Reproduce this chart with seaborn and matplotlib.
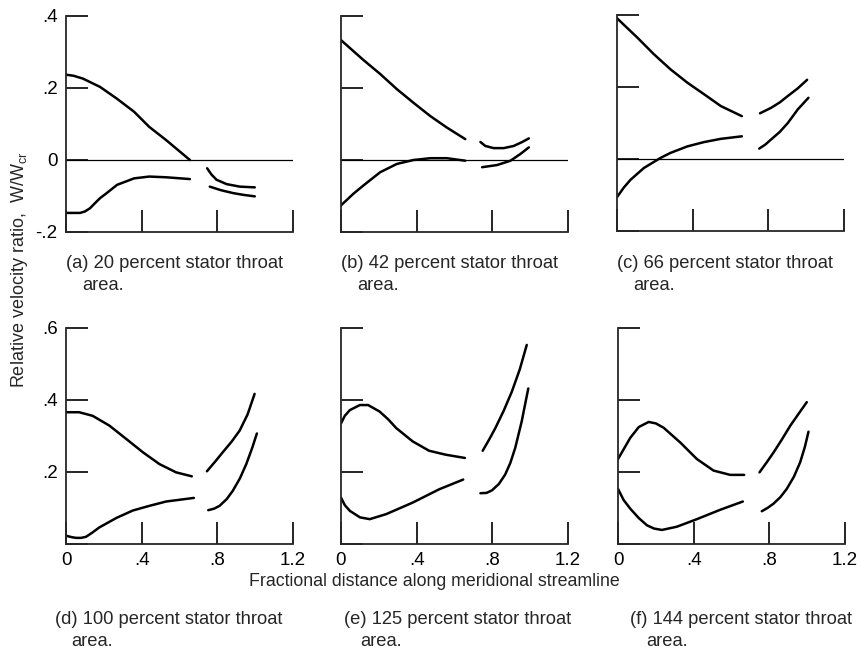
import matplotlib
matplotlib.use("Agg")
import matplotlib.pyplot as plt
import seaborn as sns

# digitised curves: each panel has two branches in the blade passage (x < .7)
# and two in the downstream section (x > .7)
a_up1_x = [0, 0.04, 0.09, 0.18, 0.27, 0.36, 0.44, 0.53, 0.655]
a_up1_y = [0.237, 0.234, 0.226, 0.203, 0.17, 0.134, 0.092, 0.055, 0.0]
a_lo1_x = [0, 0.074, 0.1, 0.127, 0.153, 0.18, 0.215, 0.27, 0.36, 0.44, 0.53, 0.655]
a_lo1_y = [-0.147, -0.147, -0.143, -0.134, -0.12, -0.106, -0.092, -0.069, -0.051,
           -0.046, -0.048, -0.053]
a_up2_x = [0.746, 0.77, 0.796, 0.849, 0.919, 0.998]
a_up2_y = [-0.023, -0.041, -0.055, -0.067, -0.074, -0.076]
a_lo2_x = [0.76, 0.82, 0.884, 0.94, 0.998]
a_lo2_y = [-0.074, -0.084, -0.092, -0.097, -0.101]

b_up1_x = [0, 0.118, 0.207, 0.295, 0.383, 0.472, 0.56, 0.657]
b_up1_y = [0.333, 0.278, 0.239, 0.197, 0.159, 0.122, 0.09, 0.058]
b_lo1_x = [0, 0.065, 0.118, 0.207, 0.295, 0.383, 0.472, 0.56, 0.657]
b_lo1_y = [-0.126, -0.094, -0.071, -0.034, -0.011, 0.0, 0.005, 0.005, -0.002]
b_up2_x = [0.737, 0.763, 0.807, 0.86, 0.913, 0.958, 0.993]
b_up2_y = [0.05, 0.039, 0.033, 0.033, 0.039, 0.05, 0.06]
b_lo2_x = [0.746, 0.825, 0.896, 0.949, 0.993]
b_lo2_y = [-0.02, -0.014, -0.002, 0.017, 0.035]

c_up1_x = [0, 0.106, 0.195, 0.283, 0.372, 0.46, 0.549, 0.66]
c_up1_y = [0.391, 0.338, 0.291, 0.249, 0.212, 0.18, 0.147, 0.119]
c_lo1_x = [0, 0.035, 0.071, 0.142, 0.23, 0.283, 0.372, 0.46, 0.549, 0.66]
c_lo1_y = [-0.106, -0.08, -0.058, -0.025, 0.003, 0.017, 0.035, 0.047, 0.056, 0.063]
c_up2_x = [0.756, 0.814, 0.86, 0.903, 0.955, 1.005]
c_up2_y = [0.127, 0.142, 0.157, 0.175, 0.196, 0.22]
c_lo2_x = [0.752, 0.784, 0.814, 0.86, 0.903, 0.956, 1.012]
c_lo2_y = [0.029, 0.04, 0.054, 0.075, 0.1, 0.138, 0.17]

d_up1_x = [0, 0.07, 0.141, 0.229, 0.318, 0.406, 0.494, 0.582, 0.665]
d_up1_y = [0.366, 0.366, 0.356, 0.329, 0.292, 0.255, 0.222, 0.199, 0.188]
d_lo1_x = [0, 0.03, 0.053, 0.08, 0.106, 0.14, 0.176, 0.265, 0.353, 0.441, 0.529, 0.676]
d_lo1_y = [0.023, 0.019, 0.017, 0.017, 0.02, 0.032, 0.046, 0.072, 0.093, 0.106, 0.118, 0.128]
d_up2_x = [0.745, 0.787, 0.829, 0.875, 0.918, 0.96, 0.997]
d_up2_y = [0.202, 0.228, 0.255, 0.284, 0.315, 0.36, 0.417]
d_lo2_x = [0.752, 0.782, 0.812, 0.85, 0.882, 0.92, 0.953, 0.985, 1.009]
d_lo2_y = [0.094, 0.098, 0.106, 0.125, 0.148, 0.183, 0.222, 0.268, 0.307]

e_up1_x = [0, 0.02, 0.047, 0.1, 0.143, 0.204, 0.25, 0.292, 0.379, 0.466, 0.554, 0.655]
e_up1_y = [0.335, 0.356, 0.372, 0.386, 0.386, 0.368, 0.346, 0.322, 0.285, 0.259, 0.248, 0.239]
e_lo1_x = [0, 0.02, 0.047, 0.1, 0.152, 0.239, 0.379, 0.519, 0.646]
e_lo1_y = [0.129, 0.108, 0.092, 0.074, 0.069, 0.083, 0.115, 0.152, 0.179]
e_up2_x = [0.749, 0.783, 0.816, 0.86, 0.903, 0.945, 0.982]
e_up2_y = [0.259, 0.29, 0.322, 0.37, 0.423, 0.485, 0.553]
e_lo2_x = [0.737, 0.77, 0.798, 0.835, 0.868, 0.895, 0.921, 0.955, 0.99]
e_lo2_y = [0.141, 0.142, 0.149, 0.167, 0.193, 0.225, 0.267, 0.34, 0.432]

f_up1_x = [0, 0.065, 0.11, 0.162, 0.2, 0.241, 0.329, 0.417, 0.505, 0.593, 0.667]
f_up1_y = [0.236, 0.295, 0.325, 0.339, 0.335, 0.323, 0.282, 0.236, 0.204, 0.192, 0.192]
f_lo1_x = [0, 0.03, 0.065, 0.11, 0.153, 0.19, 0.232, 0.311, 0.417, 0.54, 0.66]
f_lo1_y = [0.153, 0.122, 0.098, 0.072, 0.052, 0.043, 0.039, 0.048, 0.069, 0.095, 0.118]
f_up2_x = [0.748, 0.785, 0.822, 0.866, 0.91, 0.955, 0.998]
f_up2_y = [0.199, 0.226, 0.254, 0.29, 0.328, 0.362, 0.394]
f_lo2_x = [0.76, 0.79, 0.822, 0.858, 0.892, 0.93, 0.963, 0.988, 1.007]
f_lo2_y = [0.091, 0.1, 0.112, 0.13, 0.153, 0.187, 0.227, 0.27, 0.312]

captions = [
    "(a) 20 percent stator throat", "(b) 42 percent stator throat",
    "(c) 66 percent stator throat", "(d) 100 percent stator throat",
    "(e) 125 percent stator throat", "(f) 144 percent stator throat",
]
x_ticks = [0, 0.4, 0.8, 1.2]
x_labels = ["0", ".4", ".8", "1.2"]
top_y_ticks = [-0.2, 0, 0.2, 0.4]
top_y_labels = ["-.2", "0", ".2", ".4"]
bot_y_ticks = [0, 0.2, 0.4, 0.6]
bot_y_labels = ["", ".2", ".4", ".6"]

panels = [
    [(a_up1_x, a_up1_y), (a_lo1_x, a_lo1_y), (a_up2_x, a_up2_y), (a_lo2_x, a_lo2_y)],
    [(b_up1_x, b_up1_y), (b_lo1_x, b_lo1_y), (b_up2_x, b_up2_y), (b_lo2_x, b_lo2_y)],
    [(c_up1_x, c_up1_y), (c_lo1_x, c_lo1_y), (c_up2_x, c_up2_y), (c_lo2_x, c_lo2_y)],
    [(d_up1_x, d_up1_y), (d_lo1_x, d_lo1_y), (d_up2_x, d_up2_y), (d_lo2_x, d_lo2_y)],
    [(e_up1_x, e_up1_y), (e_lo1_x, e_lo1_y), (e_up2_x, e_up2_y), (e_lo2_x, e_lo2_y)],
    [(f_up1_x, f_up1_y), (f_lo1_x, f_lo1_y), (f_up2_x, f_up2_y), (f_lo2_x, f_lo2_y)],
]

sns.set_style("ticks")
plt.rcParams["font.family"] = ["Liberation Sans", "DejaVu Sans"]
plt.rcParams["mathtext.fontset"] = "custom"
plt.rcParams["mathtext.rm"] = "Liberation Sans"

W, H = 861, 652
fig = plt.figure(figsize=(W / 100, H / 100), dpi=100)

# axes boxes in pixels: left, top (y of max), width, height
lefts = [66, 341, 617, 66, 341, 618]
tops = [16, 16, 15, 328, 328, 328]
aw, ah = 227, 216
cap_pos = [(66, 264), (341, 264), (617, 264), (55, 619), (344, 619), (630, 619)]

for i in range(6):
    l, t = lefts[i], tops[i]
    ax = fig.add_axes([l / W, 1 - (t + ah) / H, aw / W, ah / H])
    top_row = i < 3
    for xs, ys in panels[i]:
        sns.lineplot(x=xs, y=ys, ax=ax, color="black", lw=1.8, sort=False,
                     estimator=None, legend=False)
    if top_row:
        ax.axhline(0, color="black", lw=0.9)
        ax.set_ylim(-0.2, 0.4)
        ax.set_yticks(top_y_ticks)
        ax.set_yticklabels(top_y_labels if i == 0 else [])
        ax.set_xticks(x_ticks)
        ax.set_xticklabels([])
    else:
        ax.set_ylim(0, 0.6)
        ax.set_yticks(bot_y_ticks)
        ax.set_yticklabels(bot_y_labels if i == 3 else [])
        ax.set_xticks(x_ticks)
        ax.set_xticklabels(x_labels)
    ax.set_xlim(0, 1.2)
    ax.set_xlabel("")
    ax.set_ylabel("")
    sns.despine(ax=ax)
    for s in ["left", "bottom"]:
        ax.spines[s].set_linewidth(1.3)
    ax.tick_params(direction="in", length=16, width=1.2, labelsize=13.5, pad=6,
                   colors="black")
    for tk in ax.xaxis.get_major_ticks() + ax.yaxis.get_major_ticks():
        tk.tick1line.set_clip_on(False)

    cx, cy = cap_pos[i]
    fig.text(cx / W, 1 - cy / H, captions[i], fontsize=13.2, va="center", ha="left")
    fig.text((cx + 16) / W, 1 - (cy + 22) / H, "area.", fontsize=13.2,
             va="center", ha="left")

fig.text(20 / W, 1 - 270 / H, "Relative velocity ratio,  W/W$_{\\mathregular{cr}}$",
         rotation=90, fontsize=13, va="center", ha="center")
fig.text(434 / W, 1 - 581 / H, "Fractional distance along meridional streamline",
         fontsize=12.8, va="center", ha="center")

fig.savefig("out.png", dpi=100)
